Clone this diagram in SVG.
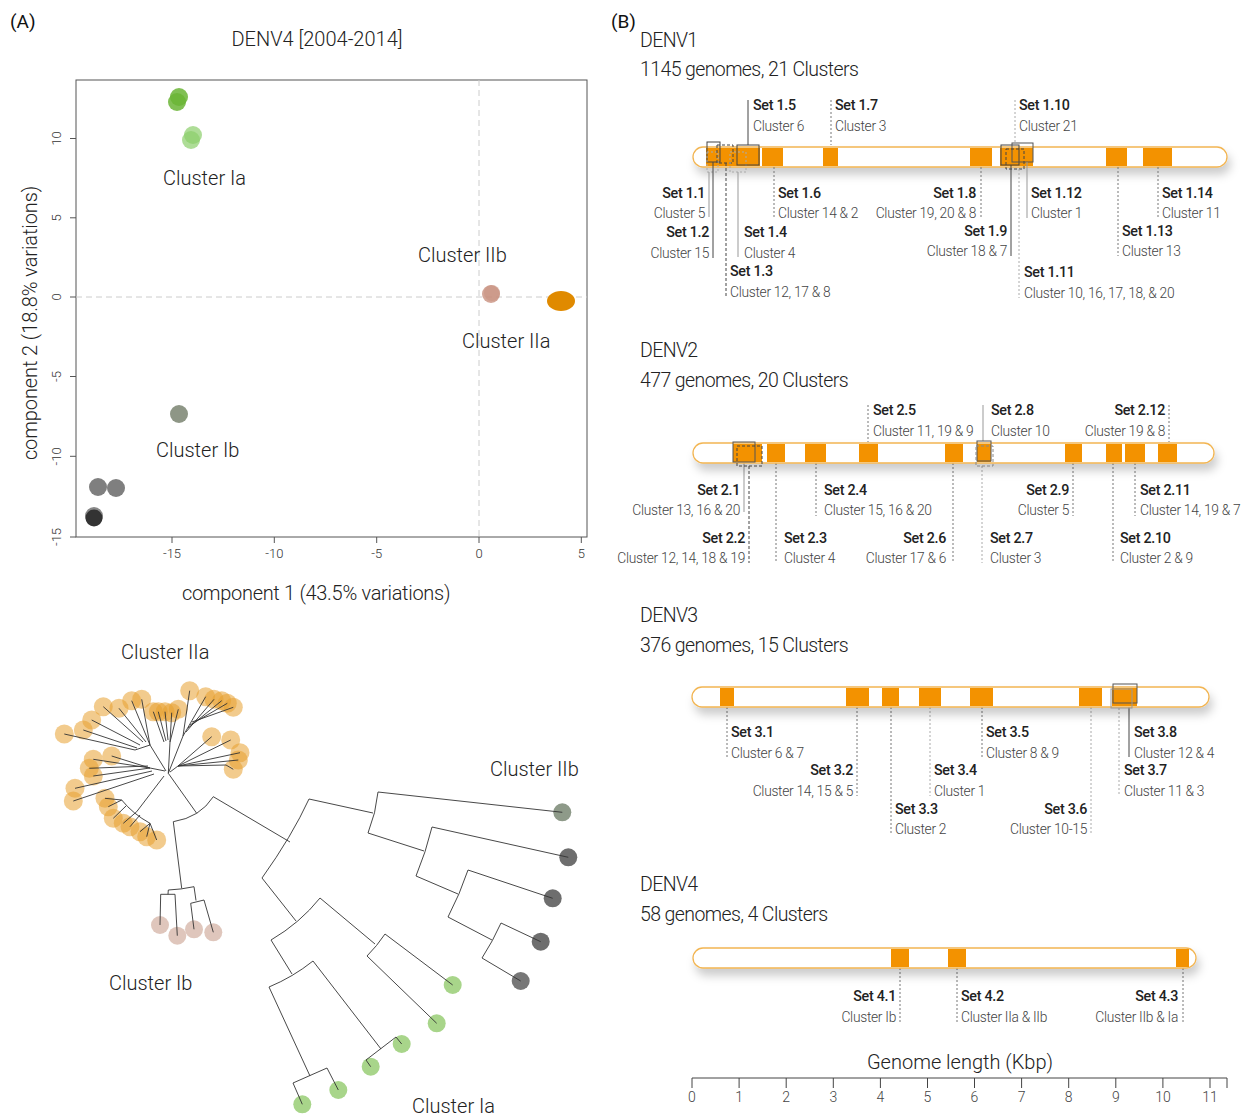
<svg xmlns="http://www.w3.org/2000/svg" width="1254" height="1116" viewBox="0 0 1254 1116">
<style>
text{font-family:Roboto,"Liberation Sans",sans-serif;}
.set{font-size:14.3px;font-weight:500;fill:#222;letter-spacing:-0.3px}
.cl{font-size:13.8px;font-weight:300;fill:#444;letter-spacing:-0.3px}
.hd{font-size:19.5px;font-weight:300;fill:#222;letter-spacing:-0.6px}
.big{font-size:20px;font-weight:300;fill:#222}
.tk{font-size:13px;font-weight:300;fill:#333}
.ax{font-size:14px;font-weight:300;fill:#444}
.bar{fill:#fff;stroke:#f2b552;stroke-width:1.3}
.blk{fill:#f39200}
.ld{stroke:#444;stroke-width:1;fill:none}
.lg{stroke:#999;stroke-width:1;fill:none}
.dd{stroke:#444;stroke-width:1;fill:none;stroke-dasharray:3 2}
.dt{stroke:#777;stroke-width:1;fill:none;stroke-dasharray:2 2}
.dl{stroke:#aaa;stroke-width:1;fill:none;stroke-dasharray:2 2}
.tr{stroke:#333;stroke-width:0.9;fill:none}
.oa{fill:#e8a030;fill-opacity:0.55}
.ib{fill:#c9a090;fill-opacity:0.6}
.la{fill:#a8d58a}
.dk{fill:#6e6e6e}
</style>
<defs>
<filter id="sh" x="-5%" y="-60%" width="112%" height="280%">
<feDropShadow dx="3" dy="7" stdDeviation="5" flood-color="#000" flood-opacity="0.2"/>
</filter>
</defs>
<rect width="1254" height="1116" fill="#fff"/>

<text x="10" y="28" style="font-size:19px;fill:#111">(A)</text>
<text x="611" y="28" style="font-size:19px;fill:#111">(B)</text>
<text x="317" y="46" class="big" text-anchor="middle">DENV4 [2004-2014]</text>

<g id="scatter">
<rect x="76" y="80" width="511" height="457" fill="none" stroke="#555" stroke-width="1"/>
<line x1="479" y1="80" x2="479" y2="537" stroke="#ccc" stroke-dasharray="6 4"/>
<line x1="76" y1="297" x2="587" y2="297" stroke="#ccc" stroke-dasharray="6 4"/>
<g stroke="#555">
<line x1="70" y1="138.5" x2="76" y2="138.5"/><line x1="70" y1="217.8" x2="76" y2="217.8"/><line x1="70" y1="297" x2="76" y2="297"/><line x1="70" y1="376.5" x2="76" y2="376.5"/><line x1="70" y1="456.3" x2="76" y2="456.3"/><line x1="70" y1="537" x2="76" y2="537"/>
<line x1="172" y1="537" x2="172" y2="543"/><line x1="274.3" y1="537" x2="274.3" y2="543"/><line x1="376.7" y1="537" x2="376.7" y2="543"/><line x1="479" y1="537" x2="479" y2="543"/><line x1="581.3" y1="537" x2="581.3" y2="543"/>
</g>
<text class="tk" text-anchor="middle" transform="translate(61,138.5) rotate(-90)">10</text>
<text class="tk" text-anchor="middle" transform="translate(61,217.8) rotate(-90)">5</text>
<text class="tk" text-anchor="middle" transform="translate(61,297) rotate(-90)">0</text>
<text class="tk" text-anchor="middle" transform="translate(61,376.5) rotate(-90)">-5</text>
<text class="tk" text-anchor="middle" transform="translate(61,456.3) rotate(-90)">-10</text>
<text class="tk" text-anchor="middle" transform="translate(61,537) rotate(-90)">-15</text>
<text class="tk" x="172" y="558" text-anchor="middle">-15</text>
<text class="tk" x="274.3" y="558" text-anchor="middle">-10</text>
<text class="tk" x="376.7" y="558" text-anchor="middle">-5</text>
<text class="tk" x="479" y="558" text-anchor="middle">0</text>
<text class="tk" x="581.3" y="558" text-anchor="middle">5</text>
<text class="big" x="316" y="600" text-anchor="middle" style="letter-spacing:-0.3px">component 1 (43.5% variations)</text>
<text class="big" text-anchor="middle" transform="translate(37,323) rotate(-90)" style="letter-spacing:-0.1px">component 2 (18.8% variations)</text>
<circle cx="179" cy="97" r="9" fill="#6bb536" fill-opacity="0.85"/>
<circle cx="177" cy="102" r="9" fill="#6bb536" fill-opacity="0.85"/>
<circle cx="193" cy="135" r="9" fill="#8ccf6b" fill-opacity="0.7"/>
<circle cx="191" cy="140" r="9" fill="#8ccf6b" fill-opacity="0.7"/>
<circle cx="491" cy="294" r="9" fill="#c8907e" fill-opacity="0.8"/>
<circle cx="492" cy="293" r="8" fill="#c8907e" fill-opacity="0.5"/>
<ellipse cx="561" cy="301" rx="14" ry="10" fill="#e08a00"/>
<circle cx="179" cy="414" r="9" fill="#8e9686"/>
<circle cx="98" cy="487" r="9" fill="#7f7f7f"/>
<circle cx="116" cy="488" r="9" fill="#7f7f7f"/>
<circle cx="94" cy="516" r="9" fill="#888"/>
<circle cx="94" cy="518" r="8.5" fill="#333"/>
<text class="big" x="163" y="185">Cluster Ia</text>
<text class="big" x="418" y="262">Cluster IIb</text>
<text class="big" x="462" y="348">Cluster IIa</text>
<text class="big" x="156" y="457">Cluster Ib</text>
</g>

<g id="tree">
<text class="big" x="121" y="659">Cluster IIa</text>
<text class="big" x="490" y="776">Cluster IIb</text>
<text class="big" x="109" y="990">Cluster Ib</text>
<text class="big" x="412" y="1113">Cluster Ia</text>
<g class="oa">
<circle cx="189.7" cy="690.7" r="9.5"/><circle cx="205.7" cy="696.7" r="9.5"/><circle cx="214" cy="699.3" r="9.5"/><circle cx="221.7" cy="700.7" r="9.5"/><circle cx="227.3" cy="703.3" r="9.5"/><circle cx="233.3" cy="707.3" r="9.5"/>
<circle cx="178.3" cy="709.3" r="9.5"/><circle cx="171.7" cy="712.7" r="9.5"/><circle cx="165" cy="711.7" r="9.5"/><circle cx="158.3" cy="711.7" r="9.5"/><circle cx="153.3" cy="711.7" r="9.5"/>
<circle cx="141.7" cy="699.3" r="9.5"/><circle cx="131.7" cy="700.7" r="9.5"/><circle cx="119" cy="708.3" r="9.5"/><circle cx="103.3" cy="706.7" r="9.5"/><circle cx="91.7" cy="720" r="9.5"/><circle cx="83.3" cy="730" r="9.5"/><circle cx="64.3" cy="734" r="9.5"/>
<circle cx="211.7" cy="736.7" r="9.5"/><circle cx="230.7" cy="740" r="9.5"/><circle cx="240" cy="752.7" r="9.5"/><circle cx="238.3" cy="760" r="9.5"/><circle cx="233.3" cy="769.3" r="9.5"/>
<circle cx="111.7" cy="756" r="9.5"/><circle cx="93.3" cy="759.3" r="9.5"/><circle cx="89.3" cy="768.3" r="9.5"/><circle cx="93.3" cy="776" r="9.5"/><circle cx="75" cy="788.3" r="9.5"/><circle cx="73.3" cy="801" r="9.5"/>
<circle cx="105" cy="798.3" r="9.5"/><circle cx="108.3" cy="806.7" r="9.5"/><circle cx="113.3" cy="818.3" r="9.5"/><circle cx="123.3" cy="823.3" r="9.5"/><circle cx="130" cy="826.7" r="9.5"/><circle cx="140" cy="831.7" r="9.5"/><circle cx="146.7" cy="836.7" r="9.5"/><circle cx="156.7" cy="840" r="9.5"/>
</g>
<g class="ib">
<circle cx="160" cy="925" r="9"/><circle cx="177.3" cy="935.7" r="9"/><circle cx="194" cy="929.3" r="9"/><circle cx="213.3" cy="932.3" r="9"/>
</g>
<circle cx="562.3" cy="812.3" r="9" fill="#8e9a89"/>
<g class="dk">
<circle cx="568.3" cy="857.3" r="9"/><circle cx="552.7" cy="898.3" r="9"/><circle cx="540.7" cy="941.7" r="9"/><circle cx="520.7" cy="981" r="9" fill="#777"/>
</g>
<g class="la">
<circle cx="452.7" cy="985" r="9"/><circle cx="436.7" cy="1023.3" r="9"/><circle cx="401.7" cy="1044" r="9"/><circle cx="370.7" cy="1066.7" r="9"/><circle cx="338.3" cy="1090" r="9"/><circle cx="302.3" cy="1104.3" r="9"/>
</g>
<path class="tr" d="M173.3,821.7 Q200.1,817.4 213.3,796.7 M213.3,796.7 L290,842
M309,799 Q292,836 262,878
M309,799 L373,813 M378,792 Q376,813 368,833 M378,792 L562.3,812.3 M368,833 L424,851
M432,827 Q426,852 416,876 M432,827 L568.3,857.3 M416,876 L458,894
M468,870 Q460,894 448,917 M468,870 L552.7,898.3 M448,917 L492,940
M501,923 Q493,941 482,958 M501,923 L540.7,941.7 M482,958 L520.7,981
M262,878 L296,921 M320,898 Q300,923 271,940 M320,898 L375,944
M385,934 Q377,946 367,956 M385,934 L452.7,985 M367,956 L436.7,1023.3
M271,940 L292,974 M313,961 Q293,977 269,987 M313,961 L381,1049
M396,1037 L366,1060 M396,1037 L401.7,1044 M366,1060 L370.7,1066.7
M269,987 L310,1076 M293,1083 L327,1068 M293,1083 L302.3,1104.3 M327,1068 L338.3,1090"/>
<path class="tr" d="M173.3,821.7 L181.7,888.3 M168.3,890 Q181,889.5 194,886.7
M168.3,890 L168,894.3 M160.7,894.3 L175,894.3 M160.7,894.3 L160,925 M175,894.3 L177.3,935.7
M194,886.7 L196,900.5 M190.7,903.3 L204,900 M190.7,903.3 L194,929.3 M204,900 L213.3,932.3"/>
<path class="tr" d="M196.7,813.3 L168.3,773.3
M168.3,773.3 L183,736 M183,736 L189.7,690.7 M183,736 L205.7,696.7 M186,732 L214,699.3 M188,728 L221.7,700.7 M190,725 L227.3,703.3 M192,722 L233.3,707.3
M168.3,773.3 L170,742 M170,742 L178.3,709.3 M170,742 L171.7,712.7 M168,740 L165,711.7 M166,741 L158.3,711.7 M164,742 L153.3,711.7
M166,771 L150,745 M150,745 L141.7,699.3 M150,745 L131.7,700.7 M146,742 L119,708.3 M143,742 L103.3,706.7 M140,745 L91.7,720 M137,748 L83.3,730 M135,750 L64.3,734 M150,745 L135,750
M170,772 L178,766 M178,766 L211.7,736.7 M178,766 L230.7,740 M178,766 L240,752.7 M178,766 L238.3,760 M226,765 L233.3,769.3 M178,766 L226,765
M165,771 L150,768 M150,768 L111.7,756 M150,768 L93.3,759.3 M148,766 L89.3,768.3 M150,768 L93.3,776 M152,771 L75,788.3 M154,774 L73.3,801
M164,776 L136.7,811.7 M121.7,800 Q133,814 150,823.3 M121.7,800 L105,798.3 M121.7,800 L108.3,806.7 M126,806 L113.3,818.3 M136.7,811.7 L123.3,823.3 M140,815 L130,826.7 M150,823.3 L140,831.7 M150,823.3 L146.7,836.7 M150,823.3 L156.7,840"/>
</g>

<g id="denv1">
<text class="hd" x="640" y="47">DENV1</text>
<text class="hd" x="640" y="76">1145 genomes, 21 Clusters</text>
<rect class="bar" x="693" y="147" width="534" height="20" rx="10" filter="url(#sh)"/>
<rect class="blk" x="706" y="148" width="54" height="18"/>
<rect class="blk" x="762" y="148" width="21" height="18"/>
<rect class="blk" x="823" y="148" width="15" height="18"/>
<rect class="blk" x="970" y="148" width="22" height="18"/>
<rect class="blk" x="1000" y="148" width="33" height="18"/>
<rect class="blk" x="1106" y="148" width="21" height="18"/>
<rect class="blk" x="1143" y="148" width="29" height="18"/>
<rect class="ld" x="707" y="142" width="13" height="20"/>
<rect class="dl" x="707" y="152" width="11" height="20"/>
<rect class="dd" x="717" y="145" width="16" height="18"/>
<rect class="dl" x="730" y="152" width="16" height="20"/>
<rect class="ld" x="737" y="145" width="22" height="20"/>
<rect class="ld" x="1001" y="145" width="18" height="20"/>
<rect class="ld" x="1012" y="143" width="21" height="19" style="stroke:#555"/>
<rect class="dd" x="1006" y="149" width="18" height="20"/>
</g>
<g id="connectors">
<line class="ld" x1="748" y1="100" x2="748" y2="145"/>
<line class="dt" x1="831" y1="100" x2="831" y2="145"/>
<line class="dl" x1="1015" y1="100" x2="1015" y2="143"/>
<line class="lg" x1="709" y1="172" x2="709" y2="217"/>
<line class="ld" x1="713" y1="162" x2="713" y2="258"/>
<line class="dd" x1="726" y1="163" x2="726" y2="297"/>
<line class="lg" x1="738" y1="172" x2="738" y2="257"/>
<line class="dt" x1="774" y1="167" x2="774" y2="218"/>
<line class="dt" x1="981" y1="167" x2="981" y2="218"/>
<line class="ld" x1="1011" y1="165" x2="1011" y2="256"/>
<line class="dl" x1="1019" y1="169" x2="1019" y2="298"/>
<line class="lg" x1="1027" y1="162" x2="1027" y2="218"/>
<line class="dt" x1="1118" y1="167" x2="1118" y2="256"/>
<line class="dt" x1="1158" y1="167" x2="1158" y2="218"/>
<line class="lg" x1="744" y1="462" x2="744" y2="512"/>
<line class="dd" x1="749" y1="466" x2="749" y2="563"/>
<line class="dt" x1="776" y1="463" x2="776" y2="563"/>
<line class="dt" x1="816" y1="463" x2="816" y2="516"/>
<line class="dt" x1="868" y1="405" x2="868" y2="442"/>
<line class="dt" x1="953" y1="463" x2="953" y2="563"/>
<line class="dl" x1="982" y1="466" x2="982" y2="563"/>
<line class="lg" x1="983" y1="405" x2="983" y2="441"/>
<line class="dt" x1="1073" y1="463" x2="1073" y2="516"/>
<line class="dt" x1="1113" y1="463" x2="1113" y2="563"/>
<line class="dt" x1="1135" y1="463" x2="1135" y2="516"/>
<line class="dt" x1="1169" y1="405" x2="1169" y2="442"/>
<line class="dt" x1="727" y1="707" x2="727" y2="757"/>
<line class="dt" x1="857" y1="707" x2="857" y2="796"/>
<line class="dt" x1="891" y1="707" x2="891" y2="834"/>
<line class="dl" x1="930" y1="707" x2="930" y2="796"/>
<line class="dt" x1="982" y1="707" x2="982" y2="757"/>
<line class="dl" x1="1091" y1="707" x2="1091" y2="834"/>
<line class="dl" x1="1119" y1="708" x2="1119" y2="796"/>
<line class="ld" x1="1129" y1="703" x2="1129" y2="757"/>
<line class="dt" x1="900" y1="968" x2="900" y2="1022"/>
<line class="dt" x1="957" y1="968" x2="957" y2="1022"/>
<line class="dt" x1="1183" y1="968" x2="1183" y2="1022"/>
</g>
<g id="denv1-labels">
<text class="set" x="753" y="110">Set 1.5</text><text class="cl" x="753" y="131">Cluster 6</text>
<text class="set" x="835" y="110">Set 1.7</text><text class="cl" x="835" y="131">Cluster 3</text>
<text class="set" x="1019" y="110">Set 1.10</text><text class="cl" x="1019" y="131">Cluster 21</text>
<text class="set" x="705" y="198" text-anchor="end">Set 1.1</text><text class="cl" x="705" y="218" text-anchor="end">Cluster 5</text>
<text class="set" x="778" y="198">Set 1.6</text><text class="cl" x="778" y="218">Cluster 14 &amp; 2</text>
<text class="set" x="976" y="198" text-anchor="end">Set 1.8</text><text class="cl" x="976" y="218" text-anchor="end">Cluster 19, 20 &amp; 8</text>
<text class="set" x="1031" y="198">Set 1.12</text><text class="cl" x="1031" y="218">Cluster 1</text>
<text class="set" x="1162" y="198">Set 1.14</text><text class="cl" x="1162" y="218">Cluster 11</text>
<text class="set" x="709" y="237" text-anchor="end">Set 1.2</text><text class="cl" x="709" y="258" text-anchor="end">Cluster 15</text>
<text class="set" x="744" y="237">Set 1.4</text><text class="cl" x="744" y="258">Cluster 4</text>
<text class="set" x="1007" y="236" text-anchor="end">Set 1.9</text><text class="cl" x="1007" y="256" text-anchor="end">Cluster 18 &amp; 7</text>
<text class="set" x="1122" y="236">Set 1.13</text><text class="cl" x="1122" y="256">Cluster 13</text>
<text class="set" x="730" y="276">Set 1.3</text><text class="cl" x="730" y="297">Cluster 12, 17 &amp; 8</text>
<text class="set" x="1024" y="277">Set 1.11</text><text class="cl" x="1024" y="298">Cluster 10, 16, 17, 18, &amp; 20</text>
</g>

<g id="denv2">
<text class="hd" x="640" y="357">DENV2</text>
<text class="hd" x="640" y="387">477 genomes, 20 Clusters</text>
<rect class="bar" x="693" y="443" width="521" height="20" rx="10" filter="url(#sh)"/>
<rect class="blk" x="733" y="444" width="29" height="18"/>
<rect class="blk" x="767" y="444" width="18" height="18"/>
<rect class="blk" x="805" y="444" width="21" height="18"/>
<rect class="blk" x="859" y="444" width="19" height="18"/>
<rect class="blk" x="945" y="444" width="18" height="18"/>
<rect class="blk" x="977" y="444" width="14" height="18"/>
<rect class="blk" x="1065" y="444" width="17" height="18"/>
<rect class="blk" x="1106" y="444" width="16" height="18"/>
<rect class="blk" x="1125" y="444" width="20" height="18"/>
<rect class="blk" x="1158" y="444" width="19" height="18"/>
<rect class="ld" x="733" y="442" width="22" height="20" style="stroke:#555"/>
<rect class="dd" x="737" y="446" width="25" height="20"/>
<rect class="ld" x="977" y="441" width="14" height="20" style="stroke:#555"/>
<rect class="dd" x="976" y="446" width="17" height="20" style="stroke:#888"/>
<text class="set" x="873" y="415">Set 2.5</text><text class="cl" x="873" y="436">Cluster 11, 19 &amp; 9</text>
<text class="set" x="991" y="415">Set 2.8</text><text class="cl" x="991" y="436">Cluster 10</text>
<text class="set" x="1165" y="415" text-anchor="end">Set 2.12</text><text class="cl" x="1165" y="436" text-anchor="end">Cluster 19 &amp; 8</text>
<text class="set" x="740" y="495" text-anchor="end">Set 2.1</text><text class="cl" x="740" y="515" text-anchor="end">Cluster 13, 16 &amp; 20</text>
<text class="set" x="824" y="495">Set 2.4</text><text class="cl" x="824" y="515">Cluster 15, 16 &amp; 20</text>
<text class="set" x="1069" y="495" text-anchor="end">Set 2.9</text><text class="cl" x="1069" y="515" text-anchor="end">Cluster 5</text>
<text class="set" x="1140" y="495">Set 2.11</text><text class="cl" x="1140" y="515">Cluster 14, 19 &amp; 7</text>
<text class="set" x="745" y="543" text-anchor="end">Set 2.2</text><text class="cl" x="745" y="563" text-anchor="end">Cluster 12, 14, 18 &amp; 19</text>
<text class="set" x="784" y="543">Set 2.3</text><text class="cl" x="784" y="563">Cluster 4</text>
<text class="set" x="946" y="543" text-anchor="end">Set 2.6</text><text class="cl" x="946" y="563" text-anchor="end">Cluster 17 &amp; 6</text>
<text class="set" x="990" y="543">Set 2.7</text><text class="cl" x="990" y="563">Cluster 3</text>
<text class="set" x="1120" y="543">Set 2.10</text><text class="cl" x="1120" y="563">Cluster 2 &amp; 9</text>
</g>

<g id="denv3">
<text class="hd" x="640" y="622">DENV3</text>
<text class="hd" x="640" y="652">376 genomes, 15 Clusters</text>
<rect class="bar" x="692" y="687" width="517" height="20" rx="10" filter="url(#sh)"/>
<rect class="blk" x="720" y="688" width="14" height="18"/>
<rect class="blk" x="846" y="688" width="23" height="18"/>
<rect class="blk" x="882" y="688" width="17" height="18"/>
<rect class="blk" x="919" y="688" width="22" height="18"/>
<rect class="blk" x="970" y="688" width="23" height="18"/>
<rect class="blk" x="1079" y="688" width="23" height="18"/>
<rect class="blk" x="1112" y="688" width="25" height="18"/>
<rect class="ld" x="1113" y="684" width="24" height="19" style="stroke:#555"/>
<rect class="lg" x="1111" y="689" width="21" height="19"/>
<text class="set" x="731" y="737">Set 3.1</text><text class="cl" x="731" y="758">Cluster 6 &amp; 7</text>
<text class="set" x="986" y="737">Set 3.5</text><text class="cl" x="986" y="758">Cluster 8 &amp; 9</text>
<text class="set" x="1134" y="737">Set 3.8</text><text class="cl" x="1134" y="758">Cluster 12 &amp; 4</text>
<text class="set" x="853" y="775" text-anchor="end">Set 3.2</text><text class="cl" x="853" y="796" text-anchor="end">Cluster 14, 15 &amp; 5</text>
<text class="set" x="934" y="775">Set 3.4</text><text class="cl" x="934" y="796">Cluster 1</text>
<text class="set" x="1124" y="775">Set 3.7</text><text class="cl" x="1124" y="796">Cluster 11 &amp; 3</text>
<text class="set" x="895" y="814">Set 3.3</text><text class="cl" x="895" y="834">Cluster 2</text>
<text class="set" x="1087" y="814" text-anchor="end">Set 3.6</text><text class="cl" x="1087" y="834" text-anchor="end">Cluster 10-15</text>
</g>

<g id="denv4">
<text class="hd" x="640" y="891">DENV4</text>
<text class="hd" x="640" y="921">58 genomes, 4 Clusters</text>
<rect class="bar" x="693" y="948" width="503" height="20" rx="10" filter="url(#sh)"/>
<rect class="blk" x="891" y="949" width="18" height="18"/>
<rect class="blk" x="948" y="949" width="18" height="18"/>
<rect class="blk" x="1176" y="949" width="13" height="18"/>
<text class="set" x="896" y="1001" text-anchor="end">Set 4.1</text><text class="cl" x="896" y="1022" text-anchor="end">Cluster Ib</text>
<text class="set" x="961" y="1001">Set 4.2</text><text class="cl" x="961" y="1022">Cluster IIa &amp; IIb</text>
<text class="set" x="1178" y="1001" text-anchor="end">Set 4.3</text><text class="cl" x="1178" y="1022" text-anchor="end">Cluster IIb &amp; Ia</text>
</g>

<g id="axis">
<text class="big" x="960" y="1069" text-anchor="middle">Genome length (Kbp)</text>
<line x1="692" y1="1078" x2="1227" y2="1078" stroke="#444"/>
<g stroke="#444">
<line x1="692" y1="1078" x2="692" y2="1088"/><line x1="739.1" y1="1078" x2="739.1" y2="1088"/><line x1="786.2" y1="1078" x2="786.2" y2="1088"/><line x1="833.3" y1="1078" x2="833.3" y2="1088"/><line x1="880.4" y1="1078" x2="880.4" y2="1088"/><line x1="927.5" y1="1078" x2="927.5" y2="1088"/><line x1="974.5" y1="1078" x2="974.5" y2="1088"/><line x1="1021.6" y1="1078" x2="1021.6" y2="1088"/><line x1="1068.7" y1="1078" x2="1068.7" y2="1088"/><line x1="1115.8" y1="1078" x2="1115.8" y2="1088"/><line x1="1162.9" y1="1078" x2="1162.9" y2="1088"/><line x1="1210" y1="1078" x2="1210" y2="1088"/><line x1="1227" y1="1078" x2="1227" y2="1088"/>
</g>
<g class="ax" text-anchor="middle">
<text x="692" y="1102">0</text><text x="739.1" y="1102">1</text><text x="786.2" y="1102">2</text><text x="833.3" y="1102">3</text><text x="880.4" y="1102">4</text><text x="927.5" y="1102">5</text><text x="974.5" y="1102">6</text><text x="1021.6" y="1102">7</text><text x="1068.7" y="1102">8</text><text x="1115.8" y="1102">9</text><text x="1162.9" y="1102">10</text><text x="1210" y="1102">11</text>
</g>
</g>
</svg>
